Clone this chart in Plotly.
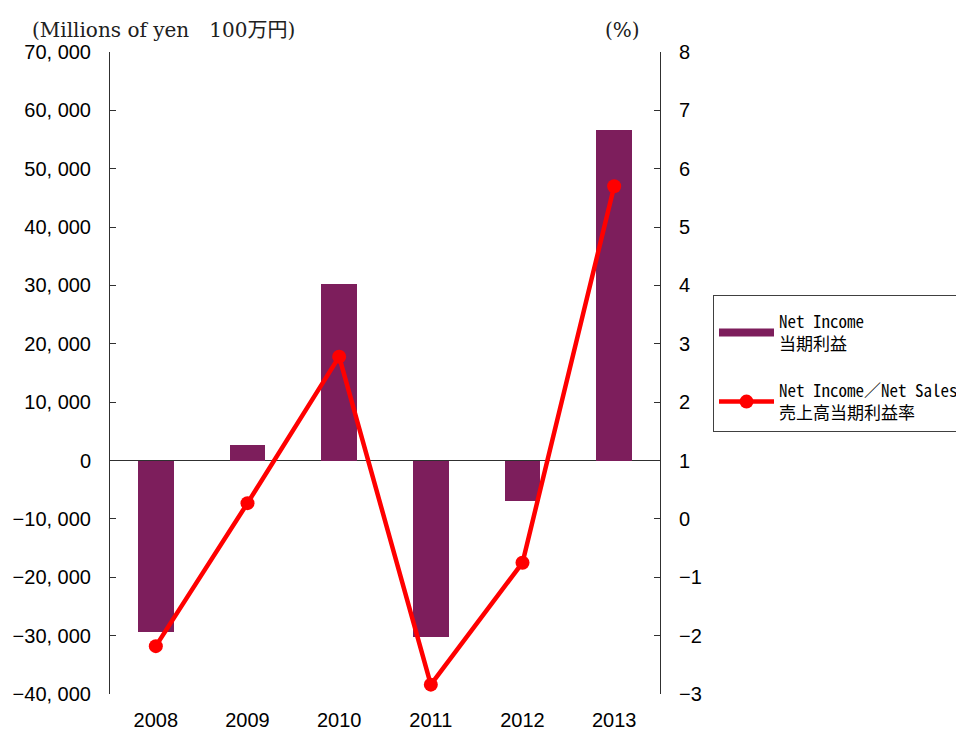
import plotly.graph_objects as go

years = ["2008", "2009", "2010", "2011", "2012", "2013"]
net_income = [-29450, 2750, 30300, -30300, -7000, 56700]
income_ratio = [-2.18, 0.27, 2.78, -2.84, -0.75, 5.70]

left_ticks = [-40000, -30000, -20000, -10000, 0, 10000, 20000, 30000, 40000, 50000, 60000, 70000]
left_labels = ["−40, 000", "−30, 000", "−20, 000", "−10, 000", "0", "10, 000",
               "20, 000", "30, 000", "40, 000", "50, 000", "60, 000", "70, 000"]
right_ticks = [-3, -2, -1, 0, 1, 2, 3, 4, 5, 6, 7, 8]
right_labels = ["−3", "−2", "−1", "0", "1", "2", "3", "4", "5", "6", "7", "8"]

BAR = "#7D1E5C"
RED = "#FF0000"
TICK_FONT = dict(family="Liberation Sans, sans-serif", size=20, color="black")
LEG_FONT = "Noto Sans Mono CJK JP, Liberation Mono, Noto Sans CJK JP, monospace"

fig = go.Figure()

fig.add_trace(go.Bar(
    x=years, y=net_income,
    width=0.39,
    marker=dict(color=BAR, line=dict(width=0)),
    showlegend=False,
))

# legend entry for the bars (long flat swatch like the original)
fig.add_trace(go.Scatter(
    x=[None], y=[None], mode="lines",
    line=dict(color=BAR, width=8),
    name="Net Income<br>当期利益",
    legendgroup="a",
))

fig.add_trace(go.Scatter(
    x=years, y=income_ratio, yaxis="y2",
    mode="lines+markers",
    line=dict(color=RED, width=4.5),
    marker=dict(color=RED, size=14),
    name="Net Income／Net Sales<br>売上高当期利益率",
    legendgroup="b",
))

fig.update_layout(
    width=956, height=734,
    margin=dict(l=110, r=296, t=52, b=40),
    paper_bgcolor="white",
    plot_bgcolor="white",
    bargap=0,
    xaxis=dict(
        type="category", showline=False, showgrid=False, ticks="",
        tickfont=TICK_FONT, ticklabelstandoff=12, automargin=False,
    ),
    yaxis=dict(
        range=[-40000, 70000], tickvals=left_ticks, ticktext=left_labels,
        showgrid=False, showline=True, linecolor="#303030", linewidth=1,
        ticks="inside", ticklen=6, tickcolor="#303030",
        zeroline=True, zerolinecolor="#303030", zerolinewidth=1,
        tickfont=TICK_FONT, ticklabelstandoff=14, automargin=False,
    ),
    yaxis2=dict(
        overlaying="y", side="right",
        range=[-3, 8], tickvals=right_ticks, ticktext=right_labels,
        showgrid=False, zeroline=False, showline=True, linecolor="#303030", linewidth=1,
        ticks="inside", ticklen=6, tickcolor="#303030",
        tickfont=TICK_FONT, ticklabelstandoff=14, automargin=False,
    ),
    legend=dict(
        xref="container", yref="container",
        x=713 / 956, y=1 - 295 / 734, xanchor="left", yanchor="top",
        bgcolor="white", bordercolor="#404040", borderwidth=1,
        font=dict(family=LEG_FONT, size=17, color="black"),
        title=dict(text=" ", font=dict(size=6)),
        tracegroupgap=22, itemwidth=55,
    ),
    annotations=[
        dict(text="(Millions of yen　100万円)", xref="paper", yref="paper",
             x=-80 / 550, y=(694 - 30) / 642, xanchor="left", yanchor="middle",
             showarrow=False,
             font=dict(family="DejaVu Serif, Noto Sans CJK JP, serif", size=20, color="#202020")),
        dict(text="(%)", xref="paper", yref="paper",
             x=(622 - 110) / 550, y=(694 - 30) / 642, xanchor="center", yanchor="middle",
             showarrow=False,
             font=dict(family="DejaVu Serif, serif", size=20, color="#202020")),
    ],
)

fig.write_html("out.html", config={"displayModeBar": False},
               post_script="document.body.style.margin = '0';")
